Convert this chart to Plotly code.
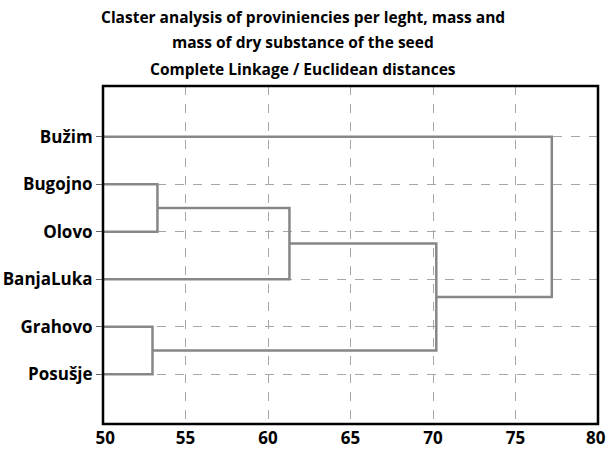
import plotly.graph_objects as go

# Leaves (top to bottom in the chart)
leaves = ["Bužim", "Bugojno", "Olovo", "BanjaLuka", "Grahovo", "Posušje"]
# Merges: (child A, child B, linkage distance); clusters named c0, c1, ...
merges = [
    ("Bugojno", "Olovo", 53.3),
    ("Grahovo", "Posušje", 53.0),
    ("c0", "BanjaLuka", 61.3),
    ("c2", "c1", 70.2),
    ("Bužim", "c3", 77.2),
]
x_ticks = [50, 55, 60, 65, 70, 75, 80]
x_min, x_max = 50, 80
title_lines = ["Claster analysis of proviniencies per leght, mass and",
               "mass of dry substance of the seed",
               "Complete Linkage / Euclidean distances"]

n = len(leaves)
ypos = {name: n - i for i, name in enumerate(leaves)}
xpos = {name: x_min for name in leaves}

line_color = "#878787"
fig = go.Figure()
for k, (a, b, h) in enumerate(merges):
    ya, yb = ypos[a], ypos[b]
    xa, xb = xpos[a], xpos[b]
    fig.add_trace(go.Scatter(
        x=[xa, h, h, xb], y=[ya, ya, yb, yb], mode="lines",
        line=dict(color=line_color, width=2.5), showlegend=False,
        hoverinfo="skip", cliponaxis=False))
    name = f"c{k}"
    ypos[name] = (ya + yb) / 2
    xpos[name] = h

# edge labels are nudged inward (as in the reference) with non-breaking spaces
x_ticktext = []
for v in x_ticks:
    s = str(v)
    if v == x_min:
        s = "\u00a0" + s
    elif v == x_max:
        s = s + "\u00a0"
    x_ticktext.append(s)

tick_font = dict(family="Open Sans", size=17, color="black", weight="bold")
title_font = dict(family="Open Sans", size=15.5, color="black", weight="bold")
grid = dict(showgrid=True, gridcolor="#a6a6a6", griddash="dash", gridwidth=1)

ML, MR, MT, MB = 103, 8, 86, 29
W, H = 606, 453
ph = H - MT - MB
pw = W - ML - MR
title_y_px = [17, 42, 69]
title_x = (W / 2 - ML) / pw
annotations = [dict(
    text=t, xref="paper", yref="paper",
    x=title_x, y=(H - MB - yp) / ph, yanchor="middle", xanchor="center",
    showarrow=False, font=title_font) for t, yp in zip(title_lines, title_y_px)]

fig.update_layout(
    width=W, height=H,
    margin=dict(l=ML, r=MR, t=MT, b=MB),
    plot_bgcolor="white", paper_bgcolor="white",
    annotations=annotations,
    shapes=[dict(type="rect", xref="paper", yref="paper", x0=0, x1=1, y0=0, y1=1,
                 line=dict(color="black", width=2.5), layer="above")],
    xaxis=dict(range=[x_min, x_max], tickvals=x_ticks, ticktext=x_ticktext,
               tickfont=tick_font,
               showline=False, ticks="", zeroline=False, automargin=False,
               ticklabeloverflow="allow", ticklabelstandoff=2, **grid),
    yaxis=dict(range=[-0.05, n + 1.07], tickvals=[ypos[l] for l in leaves],
               ticktext=leaves, tickfont=tick_font, showline=False,
               ticks="outside", ticklen=6, tickcolor="#666666",
               zeroline=False, automargin=False, ticklabeloverflow="allow", **grid),
)
fig.write_html("out.html")
